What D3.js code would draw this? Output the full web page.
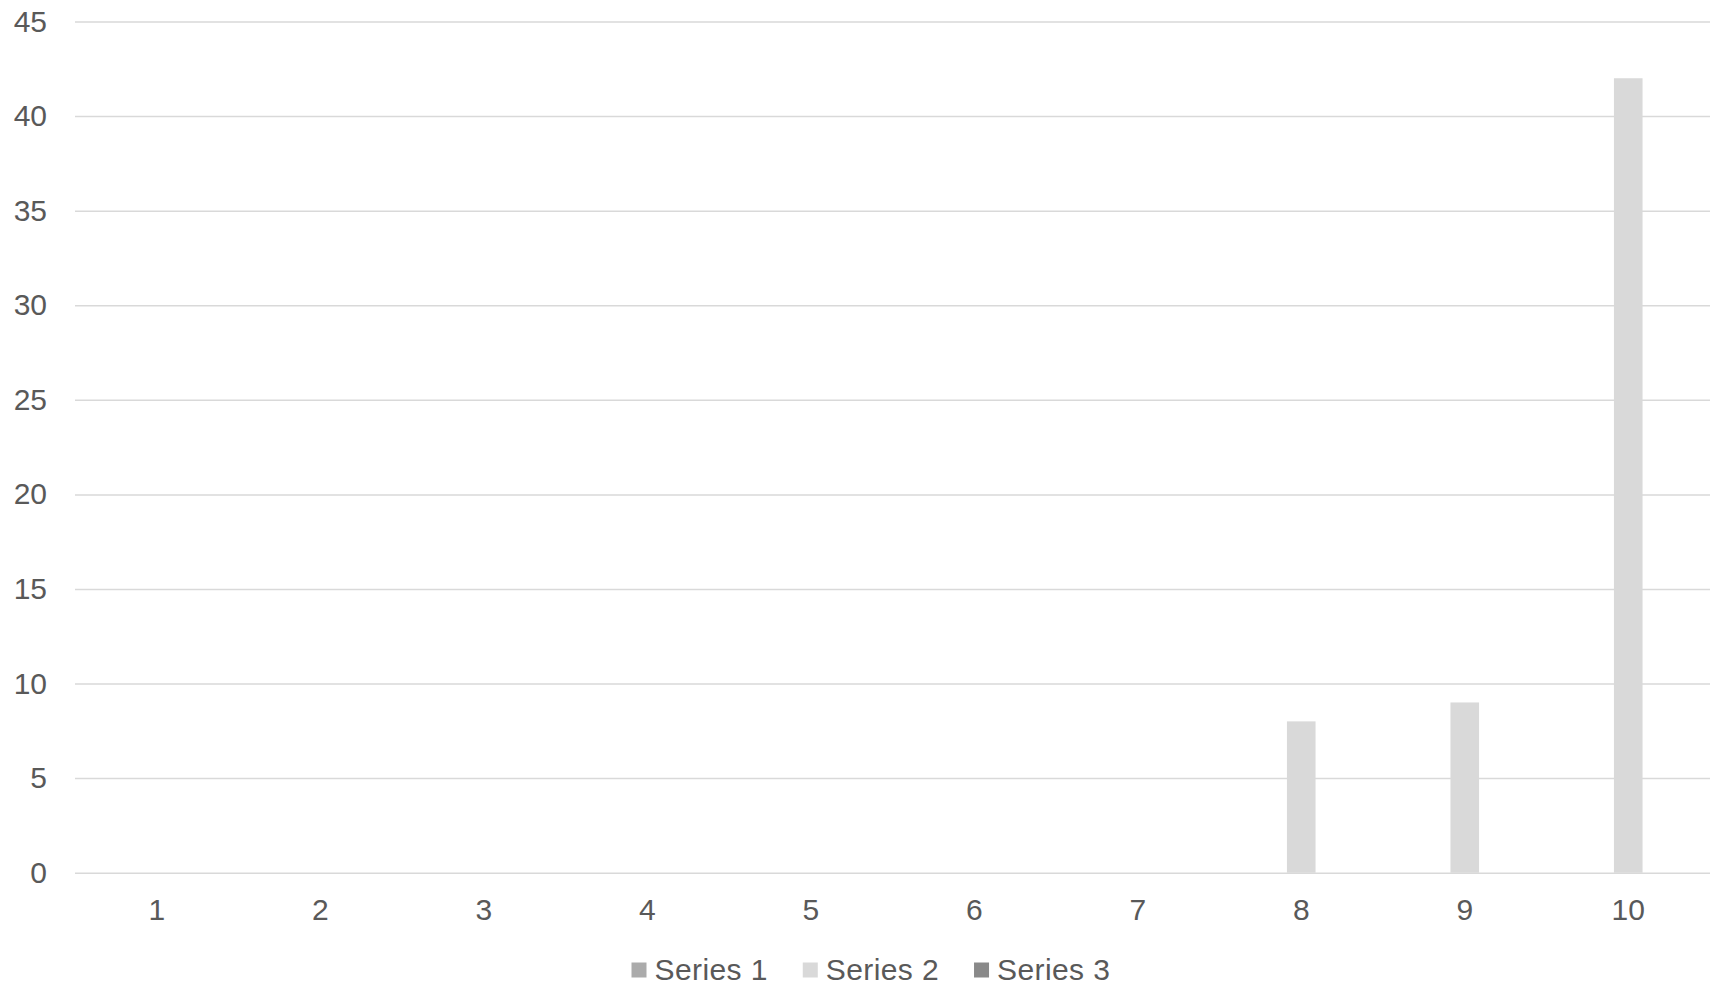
<!DOCTYPE html>
<html>
<head>
<meta charset="utf-8">
<script src="https://cdn.jsdelivr.net/npm/d3@7/dist/d3.min.js"></script>
<style>
  html, body { margin: 0; padding: 0; background: #ffffff; }
  svg { display: block; }
  text { font-family: "Liberation Sans", Arial, sans-serif; fill: #595959; }
</style>
</head>
<body>
<svg id="chart" width="1717" height="987"></svg>
<script>
// Categories and series
const categories = ["1", "2", "3", "4", "5", "6", "7", "8", "9", "10"];
const seriesNames = ["Series 1", "Series 2", "Series 3"];
const series1 = [0, 0, 0, 0, 0, 0, 0, 0, 0, 0];
const series2 = [0, 0, 0, 0, 0, 0, 0, 8, 9, 42];
const series3 = [0, 0, 0, 0, 0, 0, 0, 0, 0, 0];
const seriesColors = ["#ababab", "#d9d9d9", "#898989"];
const yTicks = [0, 5, 10, 15, 20, 25, 30, 35, 40, 45];

const allSeries = [series1, series2, series3];

const svg = d3.select("#chart");
const plot = { left: 75, right: 1710, top: 21.5, bottom: 872.7 };

const x = d3.scaleBand()
  .domain(categories)
  .range([plot.left, plot.right])
  .paddingInner(0)
  .paddingOuter(0);

// Clustered bars: each group occupies a fraction of the category band
const groupWidth = x.bandwidth() * 0.525;
const xSeries = d3.scaleBand()
  .domain(d3.range(allSeries.length))
  .range([(x.bandwidth() - groupWidth) / 2, (x.bandwidth() + groupWidth) / 2])
  .padding(0);

const y = d3.scaleLinear()
  .domain([0, 45])
  .range([plot.bottom, plot.top]);

// Horizontal gridlines
const yAxis = d3.axisLeft(y)
  .tickValues(yTicks)
  .tickSize(-(plot.right - plot.left))
  .tickPadding(28)
  .tickFormat(d3.format("d"));

const gy = svg.append("g")
  .attr("transform", `translate(${plot.left},0)`)
  .call(yAxis);
gy.select(".domain").remove();
gy.selectAll(".tick line").attr("stroke", "#d9d9d9").attr("stroke-width", 1.5);
gy.selectAll(".tick text")
  .attr("font-size", 30)
  .attr("fill", "#595959")
  .attr("font-family", "'Liberation Sans', Arial, sans-serif");

// Bars
const groups = svg.append("g")
  .selectAll("g")
  .data(categories)
  .join("g")
  .attr("transform", d => `translate(${x(d)},0)`);

groups.selectAll("rect")
  .data((d, i) => allSeries.map((s, k) => ({ k, v: s[i] })))
  .join("rect")
  .attr("x", d => xSeries(d.k))
  .attr("width", xSeries.bandwidth())
  .attr("y", d => y(d.v))
  .attr("height", d => y(0) - y(d.v))
  .attr("fill", d => seriesColors[d.k]);

// Category axis labels
const xAxis = d3.axisBottom(x).tickSize(0).tickPadding(26);
const gx = svg.append("g")
  .attr("transform", `translate(0,${plot.bottom})`)
  .call(xAxis);
gx.select(".domain").remove();
gx.selectAll(".tick text")
  .attr("font-size", 30)
  .attr("fill", "#595959")
  .attr("font-family", "'Liberation Sans', Arial, sans-serif");

// Legend
const legend = svg.append("g").attr("transform", "translate(631.5,969)");
let lx = 0;
seriesNames.forEach((name, k) => {
  const item = legend.append("g").attr("transform", `translate(${lx},0)`);
  item.append("rect")
    .attr("x", 0).attr("y", -6.5)
    .attr("width", 15).attr("height", 15)
    .attr("fill", seriesColors[k]);
  const t = item.append("text")
    .attr("x", 23)
    .attr("y", 0)
    .attr("dy", "0.36em")
    .attr("font-size", 30)
    .attr("letter-spacing", 0.4)
    .text(name);
  lx += 23 + t.node().getComputedTextLength() + 35;
});
</script>
</body>
</html>
